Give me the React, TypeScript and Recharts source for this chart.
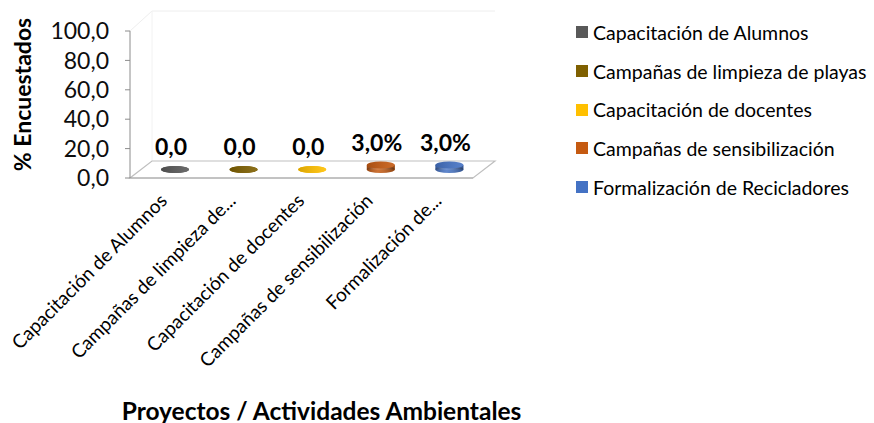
import React from "react";
import { Bar, BarChart, Cell, LabelList, ReferenceArea, XAxis, YAxis } from "recharts";

const categories = [
  "Capacitación de Alumnos",
  "Campañas de limpieza de playas",
  "Capacitación de docentes",
  "Campañas de sensibilización",
  "Formalización de Recicladores",
];
const tickLabels = [
  "Capacitación de Alumnos",
  "Campañas de limpieza de...",
  "Capacitación de docentes",
  "Campañas de sensibilización",
  "Formalización de...",
];
const values = [0, 0, 0, 3, 3];
const valueLabels = ["0,0", "0,0", "0,0", "3,0%", "3,0%"];
const colors = ["#595959", "#7f6000", "#ffc000", "#c55a11", "#4472c4"];
const yTicks = [0, 20, 40, 60, 80, 100];

const data = categories.map((name, i) => ({
  name,
  tick: tickLabels[i],
  value: values[i],
  label: valueLabels[i],
}));

const FONT = "Lato, 'Open Sans', sans-serif";
// 3D depth of the floor (Excel style)
const DX = 22;
const DY = 17;

function Cylinder(props: any) {
  const { x, y, width, height, fill } = props;
  const cx = x + width / 2 + DX / 2;
  const rx = width / 2;
  const ry = 3.5;
  const base = y + height - DY / 2;
  const top = y - DY / 2;
  return (
    <g>
      <ellipse cx={cx} cy={base} rx={rx} ry={ry} fill={fill} />
      {height > 0.5 && (
        <>
          <rect x={cx - rx} y={top} width={rx * 2} height={base - top} fill={fill} />
          <rect x={cx - rx} y={top} width={rx * 2} height={base - top} fill="url(#cylShade)" />
          <ellipse cx={cx} cy={base} rx={rx} ry={ry} fill="url(#cylShade)" />
        </>
      )}
      <ellipse cx={cx} cy={top} rx={rx} ry={ry} fill={fill} />
      <ellipse cx={cx} cy={top} rx={rx} ry={ry} fill="url(#topShade)" />
    </g>
  );
}

function Floor(props: any) {
  const { x, y, width, height } = props;
  const b = y + height;
  return (
    <g fill="none">
      {/* faint back walls */}
      <polyline
        points={`${x},${y} ${x + DX},${y - DY - 3} ${x + width + DX},${y - DY - 3}`}
        stroke="#eeeeee"
        strokeWidth={1}
      />
      <line x1={x + DX} y1={y - DY - 3} x2={x + DX} y2={b - DY} stroke="#f2f2f2" />
      <polygon
        points={`${x},${b} ${x + width},${b} ${x + width + DX},${b - DY} ${x + DX},${b - DY}`}
        stroke="#bfbfbf"
        strokeWidth={1.2}
      />
    </g>
  );
}

function XTick(props: any) {
  const { x, y, payload } = props;
  const px = x + 4;
  const py = y + 16;
  return (
    <text
      x={px}
      y={py}
      textAnchor="end"
      transform={`rotate(-45, ${px}, ${py})`}
      fontSize={19}
      fontFamily={FONT}
      fill="#000"
    >
      {tickLabels[payload.index] ?? payload.value}
    </text>
  );
}

function ValueLabel(props: any) {
  const { x, y, width, value } = props;
  return (
    <text
      x={x + width / 2 + 7}
      y={y - 23}
      textAnchor="middle"
      fontSize={23}
      fontWeight={700}
      fontFamily={FONT}
      fill="#000"
    >
      {value}
    </text>
  );
}

function YTitle(props: any) {
  const vb = props.viewBox || { x: 0, y: 31, width: 130, height: 147 };
  const tx = vb.x + 22;
  const ty = vb.y + vb.height / 2 - 10;
  return (
    <text
      x={tx}
      y={ty}
      transform={`rotate(-90, ${tx}, ${ty})`}
      textAnchor="middle"
      dominantBaseline="central"
      fontSize={23}
      fontWeight={700}
      fontFamily={FONT}
      fill="#000"
    >
      % Encuestados
    </text>
  );
}

function XTitle(props: any) {
  const vb = props.viewBox || { x: 130, y: 178, width: 343, height: 245 };
  return (
    <text
      x={vb.x + vb.width / 2 + 20}
      y={vb.y + 232}
      textAnchor="middle"
      dominantBaseline="central"
      fontSize={24.5}
      fontWeight={700}
      fontFamily={FONT}
      fill="#000"
    >
      Proyectos / Actividades Ambientales
    </text>
  );
}

export default function App() {
  return (
    <div
      style={{
        position: "absolute",
        left: 0,
        top: 0,
        width: 874,
        height: 423,
        background: "#fff",
        fontFamily: FONT,
      }}
    >
      <BarChart
        width={874}
        height={423}
        data={data}
        margin={{ top: 31, right: 401, bottom: 0, left: 0 }}
        barSize={28}
      >
        <defs>
          <linearGradient id="cylShade" x1="0" y1="0" x2="1" y2="0">
            <stop offset="0" stopColor="#000" stopOpacity={0.25} />
            <stop offset="0.4" stopColor="#fff" stopOpacity={0.15} />
            <stop offset="1" stopColor="#000" stopOpacity={0.3} />
          </linearGradient>
          <linearGradient id="topShade" x1="0" y1="0" x2="1" y2="0">
            <stop offset="0" stopColor="#000" stopOpacity={0.15} />
            <stop offset="1" stopColor="#fff" stopOpacity={0.1} />
          </linearGradient>
        </defs>
        <ReferenceArea y1={0} y2={100} shape={<Floor />} ifOverflow="visible" />
        <XAxis
          dataKey="name"
          height={245}
          axisLine={{ stroke: "#a6a6a6" }}
          tickLine={false}
          interval={0}
          tick={<XTick />}
          label={XTitle}
        />
        <YAxis
          width={130}
          domain={[0, 100]}
          ticks={yTicks}
          interval={0}
          axisLine={{ stroke: "#8c8c8c" }}
          tickLine={{ stroke: "#8c8c8c" }}
          tickSize={5}
          tickMargin={16}
          tick={{ fontSize: 23, fontFamily: FONT, fill: "#0d0d0d" }}
          tickFormatter={(v: number) => v.toFixed(1).replace(".", ",")}
          label={YTitle}
        />
        <Bar dataKey="value" isAnimationActive={false} shape={<Cylinder />} minPointSize={0}>
          {data.map((d, i) => (
            <Cell key={d.name} fill={colors[i]} />
          ))}
          <LabelList dataKey="label" content={<ValueLabel />} />
        </Bar>
      </BarChart>
      <div style={{ position: "absolute", left: 576, top: 13 }}>
        {categories.map((c, i) => (
          <div
            key={c}
            style={{
              display: "flex",
              alignItems: "center",
              height: 38.7,
              fontSize: 19.5,
              color: "#000",
              whiteSpace: "nowrap",
            }}
          >
            <span
              style={{
                display: "inline-block",
                width: 12,
                height: 12,
                background: colors[i],
                marginRight: 5,
              }}
            />
            {c}
          </div>
        ))}
      </div>
    </div>
  );
}
